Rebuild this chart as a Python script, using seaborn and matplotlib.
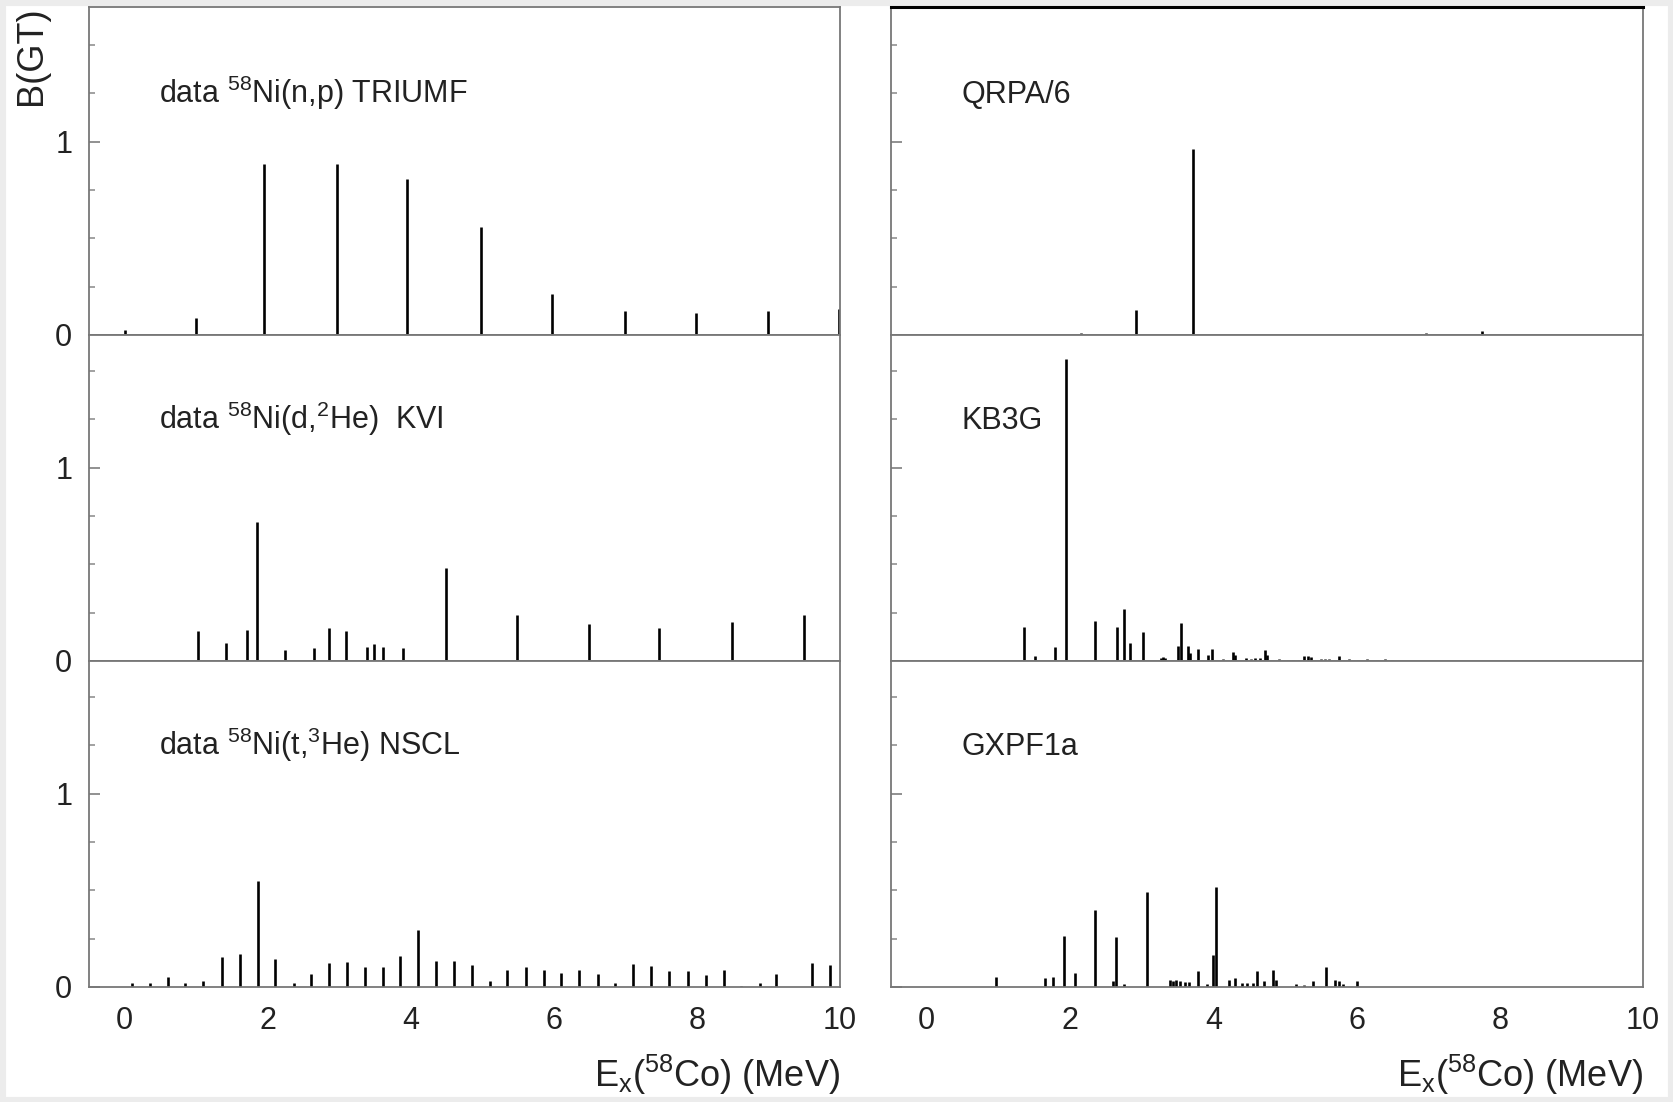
import matplotlib
matplotlib.use("Agg")
import matplotlib.pyplot as plt
from matplotlib import font_manager
from matplotlib.patches import Rectangle
import numpy as np
import pandas as pd
import seaborn as sns

# --- data: (E_x in MeV, B(GT)) ---
triumf_x = [0.0, 1.0, 1.95, 2.97, 3.95, 4.98, 5.98, 7.0, 7.98, 9.0, 9.98]
triumf_b = [0.026, 0.09, 0.884, 0.884, 0.805, 0.559, 0.212, 0.124, 0.112, 0.124, 0.134]

kvi_x = [1.03, 1.42, 1.71, 1.85, 2.24, 2.65, 2.85, 3.09, 3.39, 3.49, 3.61, 3.89,
         4.49, 5.49, 6.49, 7.47, 8.49, 9.50]
kvi_b = [0.155, 0.091, 0.159, 0.717, 0.057, 0.066, 0.172, 0.155, 0.071, 0.090, 0.071, 0.069,
         0.483, 0.236, 0.193, 0.172, 0.202, 0.236]

nscl_x = [0.10, 0.35, 0.60, 0.84, 1.10, 1.36, 1.61, 1.86, 2.10, 2.36, 2.60, 2.85, 3.11,
          3.36, 3.61, 3.85, 4.10, 4.35, 4.61, 4.85, 5.11, 5.35, 5.61, 5.86, 6.10, 6.35,
          6.61, 6.85, 7.11, 7.36, 7.61, 7.87, 8.12, 8.38, 8.62, 8.88, 9.11, 9.61, 9.86]
nscl_b = [0.021, 0.021, 0.052, 0.022, 0.029, 0.153, 0.171, 0.548, 0.143, 0.022, 0.069, 0.126, 0.131,
          0.102, 0.102, 0.162, 0.297, 0.134, 0.134, 0.116, 0.029, 0.090, 0.102, 0.086, 0.072, 0.086,
          0.069, 0.021, 0.117, 0.109, 0.081, 0.081, 0.062, 0.090, 0.005, 0.021, 0.069, 0.126, 0.116]

qrpa_x = [2.15, 2.92, 3.72, 6.97, 7.75]
qrpa_b = [0.009, 0.13, 0.96, 0.012, 0.023]

kb3g_x = [1.36, 1.51, 1.79, 1.94, 2.35, 2.44, 2.66, 2.76, 2.84, 3.02, 3.27, 3.30, 3.33, 3.51,
          3.55, 3.64, 3.68, 3.79, 3.93, 3.98, 4.13, 4.27, 4.31, 4.45, 4.52, 4.58, 4.65, 4.72,
          4.75, 4.92, 5.05, 5.12, 5.20, 5.27, 5.32, 5.37, 5.50, 5.56, 5.62, 5.75, 5.90, 6.02,
          6.15, 6.28, 6.40, 6.50]
kb3g_b = [0.178, 0.026, 0.074, 1.562, 0.209, 0.005, 0.178, 0.267, 0.091, 0.148, 0.017, 0.02, 0.017, 0.078,
          0.195, 0.078, 0.04, 0.062, 0.031, 0.062, 0.009, 0.048, 0.031, 0.014, 0.012, 0.016, 0.014, 0.057,
          0.031, 0.009, 0.005, 0.006, 0.005, 0.026, 0.024, 0.02, 0.012, 0.01, 0.012, 0.026, 0.008, 0.007,
          0.008, 0.006, 0.008, 0.005]

gxpf_x = [0.97, 1.65, 1.76, 1.91, 2.07, 2.35, 2.60, 2.64, 2.76, 3.08, 3.39, 3.44, 3.48, 3.53,
          3.60, 3.66, 3.79, 3.91, 4.00, 4.04, 4.22, 4.31, 4.40, 4.47, 4.55, 4.61, 4.71, 4.84,
          4.88, 5.15, 5.26, 5.39, 5.58, 5.70, 5.76, 5.81, 6.00]
gxpf_b = [0.052, 0.044, 0.052, 0.265, 0.075, 0.398, 0.031, 0.258, 0.014, 0.494, 0.035, 0.03, 0.035, 0.03,
          0.026, 0.026, 0.082, 0.014, 0.166, 0.515, 0.035, 0.049, 0.021, 0.021, 0.021, 0.082, 0.031, 0.087,
          0.035, 0.017, 0.009, 0.031, 0.105, 0.035, 0.03, 0.017, 0.031]

panel_labels = [
    [r"data $^{58}$Ni(n,p) TRIUMF", "QRPA/6"],
    [r"data $^{58}$Ni(d,$^{2}$He)  KVI", "KB3G"],
    [r"data $^{58}$Ni(t,$^{3}$He) NSCL", "GXPF1a"],
]
panel_data = [
    [(triumf_x, triumf_b), (qrpa_x, qrpa_b)],
    [(kvi_x, kvi_b), (kb3g_x, kb3g_b)],
    [(nscl_x, nscl_b), (gxpf_x, gxpf_b)],
]
x_ticks = [0, 2, 4, 6, 8, 10]
x_label = r"E$_{\mathrm{x}}$($^{58}$Co) (MeV)"
y_label = "B(GT)"

# --- style ---
sns.set_theme(style="ticks")
names = {f.name for f in font_manager.fontManager.ttflist}
family = "Liberation Sans Narrow" if "Liberation Sans Narrow" in names else "Liberation Sans"
plt.rcParams.update({
    "font.family": [family, "DejaVu Sans"],
    "mathtext.fontset": "custom",
    "mathtext.rm": family,
    "mathtext.it": family,
    "mathtext.bf": family,
    "text.color": "#222222",
    "axes.labelcolor": "#222222",
    "xtick.color": "#222222",
    "ytick.color": "#222222",
})

W, H = 1673, 1102
fig = plt.figure(figsize=(W / 100, H / 100), dpi=100)
fig.patch.set_facecolor("white")

col_left = [89, 891]
col_right = [840, 1643]
row_edges = [7, 335, 661, 987]

for r in range(3):
    for c in range(2):
        top, bot = row_edges[r], row_edges[r + 1]
        ax = fig.add_axes([col_left[c] / W, 1 - bot / H,
                           (col_right[c] - col_left[c]) / W, (bot - top) / H])
        xs, bs = panel_data[r][c]
        df = pd.DataFrame({"ex": xs, "bgt": bs})
        ax.vlines(df["ex"], 0, df["bgt"], color="black", lw=1.9)
        ax.set_xlim(-0.5, 10)
        ax.set_ylim(0, (bot - top) / 193.3)

        for s in ax.spines.values():
            s.set_color("#777777")
            s.set_linewidth(1.3)
        if c == 1 and r == 0:
            ax.spines["top"].set_color("black")
            ax.spines["top"].set_linewidth(2.2)

        ax.set_yticks([0, 1])
        ax.set_yticks([0.25, 0.5, 0.75, 1.25, 1.5], minor=True)
        ax.tick_params(axis="y", which="major", direction="in", length=8, width=1.3,
                       color="#888888", pad=12, labelsize=22)
        ax.tick_params(axis="y", which="minor", direction="in", length=4, width=1.1,
                       color="#888888")
        if c == 1:
            ax.tick_params(axis="y", labelleft=False)

        ax.set_xticks(x_ticks)
        ax.tick_params(axis="x", length=0, pad=14, labelsize=22)
        if r < 2:
            ax.tick_params(axis="x", labelbottom=False)
        else:
            ax.set_xlabel(x_label, loc="right", fontsize=26, labelpad=12)

        ax.text(0.48, 1.2, panel_labels[r][c], fontsize=22, ha="left", va="baseline")

fig.text(32 / W, 1 - 6 / H, y_label, rotation=90, ha="center", va="top", fontsize=26,
         color="#222222")

fig.patches.append(Rectangle((0, 0), 1, 1, transform=fig.transFigure, fill=False,
                             ec="#ececec", lw=8, zorder=-1))

fig.savefig("out.png", dpi=100, facecolor="white")
